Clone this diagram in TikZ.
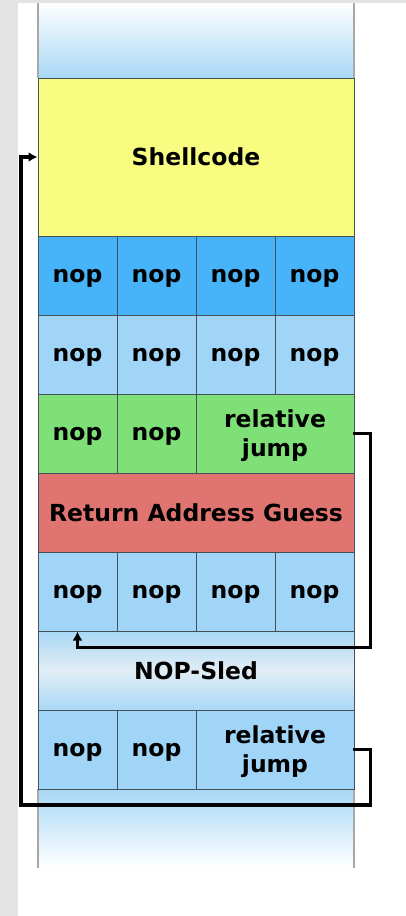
\documentclass[tikz,border=0pt]{standalone}
\usepackage{fontspec}
\setmainfont{DejaVu Sans}
\usetikzlibrary{arrows.meta}
\definecolor{texgray}{HTML}{E3E3E3}
\definecolor{cellline}{HTML}{46505A}
\definecolor{sideline}{HTML}{A8A8A8}
\definecolor{shellyellow}{HTML}{F8FC80}
\definecolor{nopdark}{HTML}{47B4FA}
\definecolor{noplight}{HTML}{A0D5F8}
\definecolor{jumpgreen}{HTML}{80E078}
\definecolor{retred}{HTML}{E07470}
\definecolor{gradblue}{HTML}{A8D8F6}
\definecolor{gradpale}{HTML}{E2EDF5}
\tikzset{
  cell/.style={draw=cellline, line width=1pt, inner sep=0pt, minimum height=79pt,
    font=\fontsize{23.5}{29}\selectfont\bfseries, text=black, align=center, text depth=0pt},
  nopcell/.style={cell, minimum width=79pt},
  widecell/.style={cell, minimum width=158pt},
  conn/.style={draw=black, line width=3.4pt, line cap=rect, line join=miter},
  tip/.style={-{Latex[length=9pt,width=10pt]}}
}
\begin{document}
\begin{tikzpicture}[x=1pt,y=-1pt]
\useasboundingbox (0,0) rectangle (406,916);
\fill[white] (0,0) rectangle (406,916);
% textured margins
\fill[texgray] (0,0) rectangle (18,916);
\fill[texgray] (0,0) rectangle (406,3);
% top gradient region
\shade[top color=white, bottom color=gradblue] (38,3) rectangle (354,78);
% bottom gradient region
\shade[top color=gradblue, bottom color=white] (38,789) rectangle (354,868);
\draw[sideline, line width=1.2pt] (38,3) -- (38,78) (354,3) -- (354,78);
\draw[sideline, line width=1.2pt] (38,789) -- (38,868) (354,789) -- (354,868);
% shellcode
\node[cell, fill=shellyellow, minimum width=316pt, minimum height=158pt] (shell) at (196,157) {Shellcode};
% row 1
\node[nopcell, fill=nopdark] (a1) at (77.5,275.5) {nop};
\node[nopcell, fill=nopdark] (a2) at (156.5,275.5) {nop};
\node[nopcell, fill=nopdark] (a3) at (235.5,275.5) {nop};
\node[nopcell, fill=nopdark] (a4) at (314.5,275.5) {nop};
% row 2
\node[nopcell, fill=noplight] (b1) at (77.5,354.5) {nop};
\node[nopcell, fill=noplight] (b2) at (156.5,354.5) {nop};
\node[nopcell, fill=noplight] (b3) at (235.5,354.5) {nop};
\node[nopcell, fill=noplight] (b4) at (314.5,354.5) {nop};
% row 3
\node[nopcell, fill=jumpgreen] (g1) at (77.5,433.5) {nop};
\node[nopcell, fill=jumpgreen] (g2) at (156.5,433.5) {nop};
\node[widecell, fill=jumpgreen] (rj1) at (275,433.5) {relative\\jump};
% row 4
\node[cell, fill=retred, minimum width=316pt] (ret) at (196,512.5) {Return Address Guess};
% row 5
\node[nopcell, fill=noplight] (c1) at (77.5,591.5) {nop};
\node[nopcell, fill=noplight] (c2) at (156.5,591.5) {nop};
\node[nopcell, fill=noplight] (c3) at (235.5,591.5) {nop};
\node[nopcell, fill=noplight] (c4) at (314.5,591.5) {nop};
% NOP sled
\shade[top color=gradblue, bottom color=gradblue, middle color=gradpale] (38,631) rectangle (354,710);
\node[cell, minimum width=316pt] (sled) at (196,670.5) {NOP-Sled};
% row 7
\node[nopcell, fill=noplight] (d1) at (77.5,749.5) {nop};
\node[nopcell, fill=noplight] (d2) at (156.5,749.5) {nop};
\node[widecell, fill=noplight] (rj2) at (275,749.5) {relative\\jump};
% connectors
\coordinate (bl) at (21,805);
\draw[conn, tip] (rj1.east) -- ++(16,0) |- ([yshift=-16pt]c1.south) -- (c1.south);
\draw[conn, tip] (rj2.east) -- ++(16,0) |- (bl) |- (shell.west);
\end{tikzpicture}
\end{document}
